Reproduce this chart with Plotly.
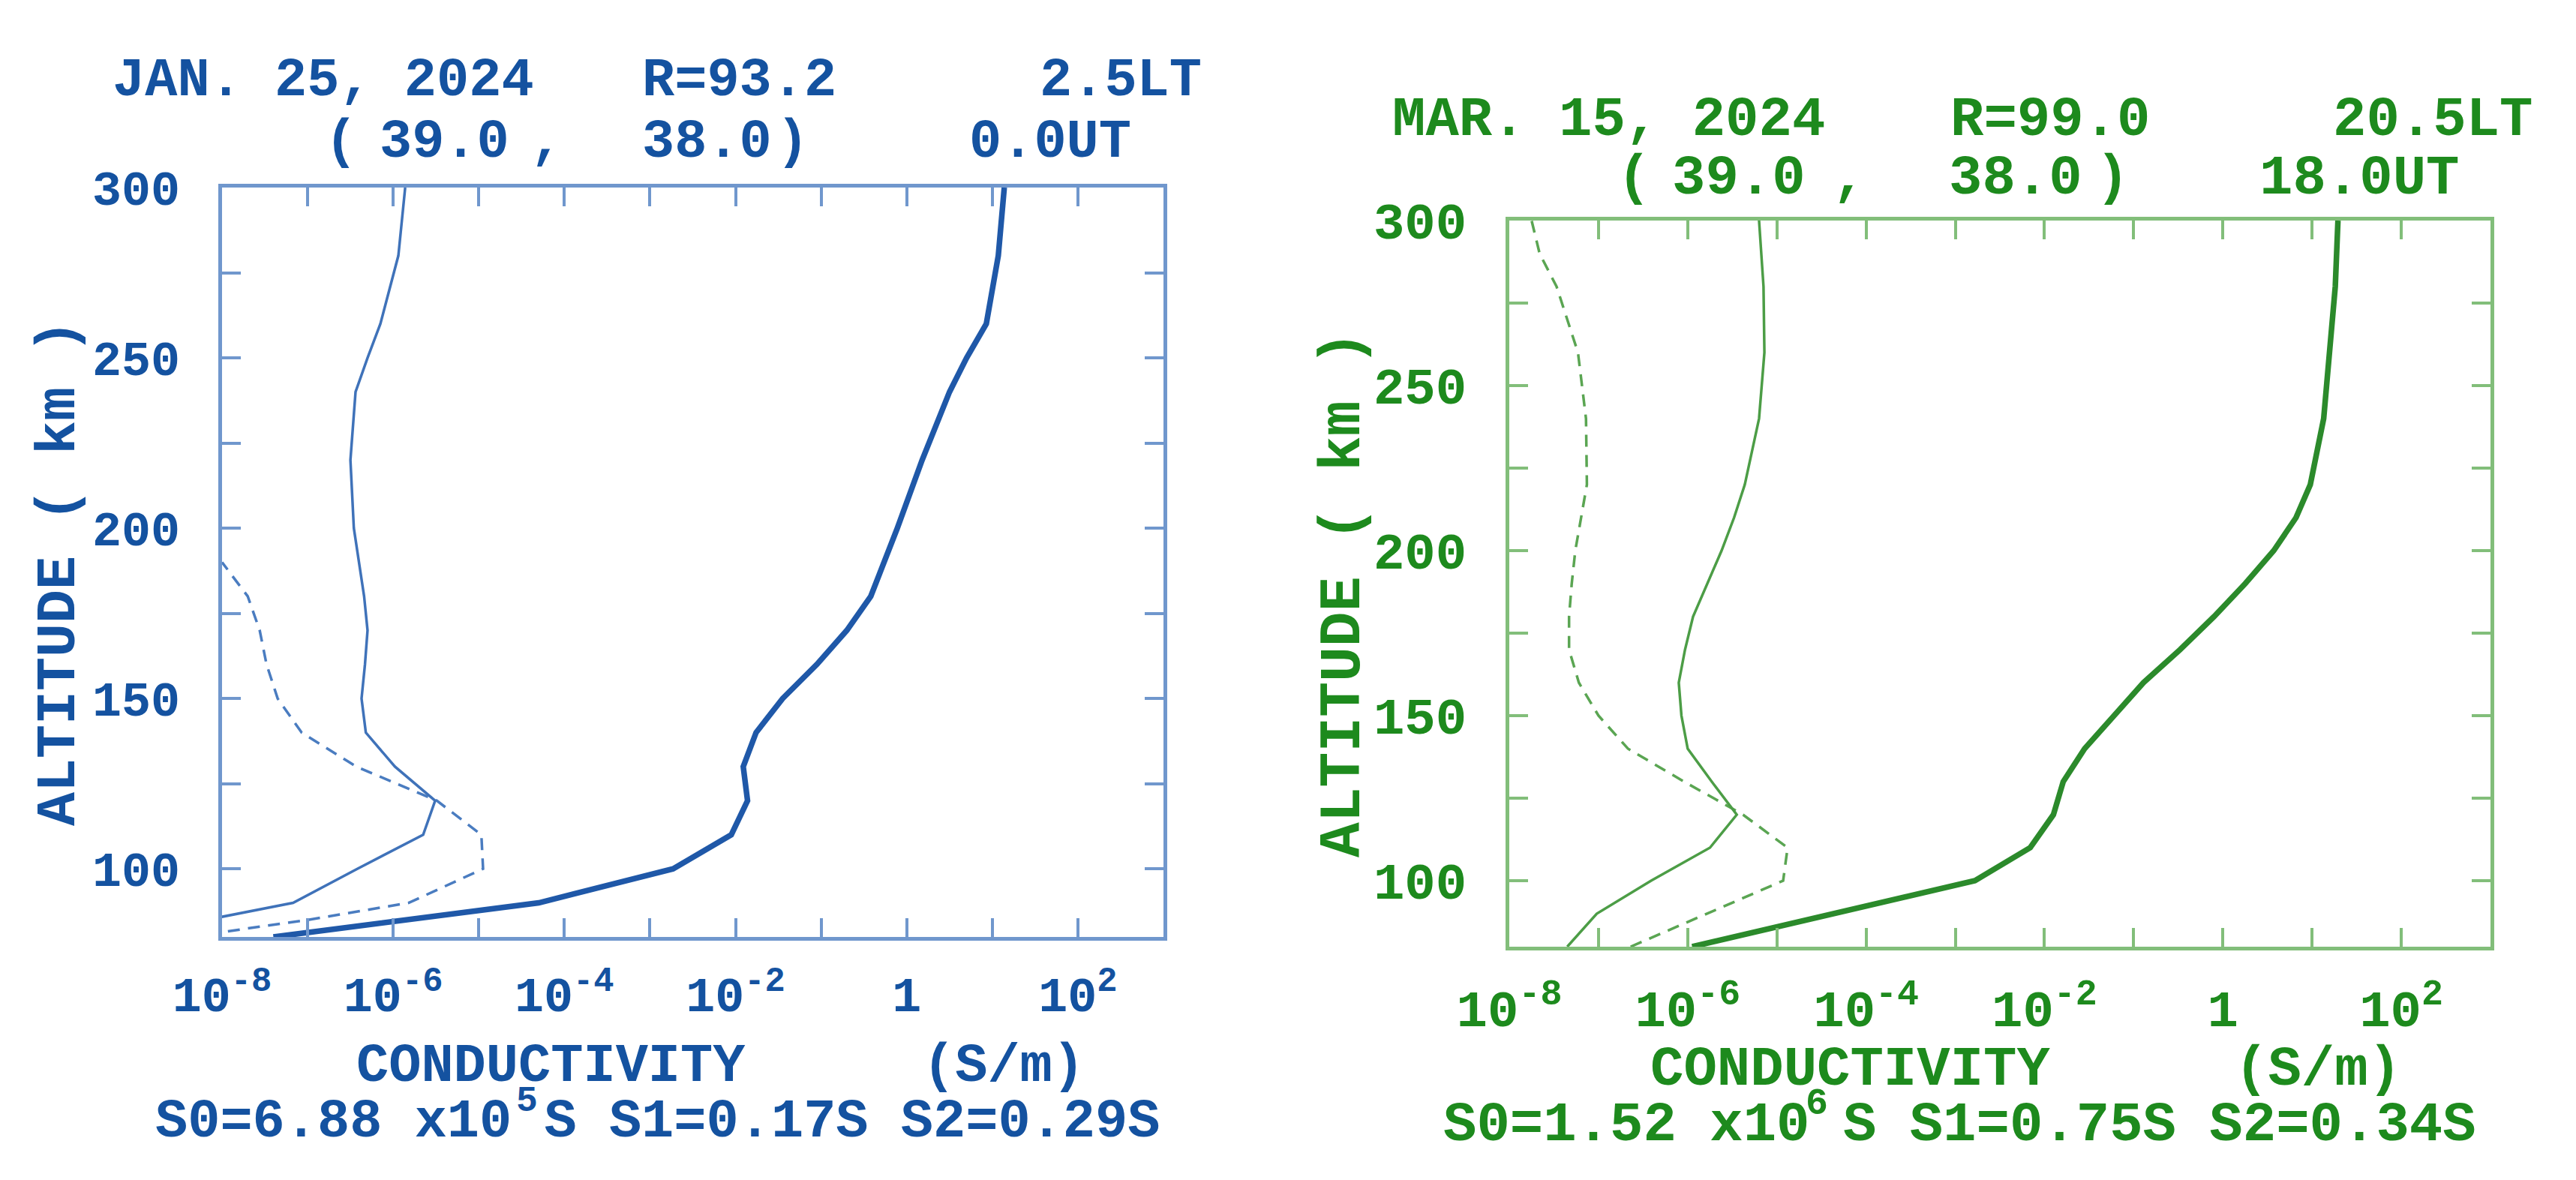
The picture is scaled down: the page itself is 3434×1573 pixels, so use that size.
import numpy as np
import plotly.graph_objects as go

W, H = 3434, 1573

# ---- data: log10 of conductivity (S/m) against altitude (km) ----
# left panel, JAN. 25, 2024
jan_alt = [80, 90, 100, 110, 120, 130, 140, 150, 160, 170, 180, 200, 220, 240, 250, 260, 280, 300]
jan_thick = [-7.4, -4.3, -2.73, -2.05, -1.86, -1.91, -1.76, -1.45, -1.05, -0.70, -0.42,
             -0.11, 0.18, 0.50, 0.70, 0.93, 1.07, 1.14]
jan_thin = [-9.2, -7.17, -6.42, -5.65, -5.51, -5.98, -6.32, -6.37, -6.33, -6.30, -6.34,
            -6.46, -6.50, -6.44, -6.30, -6.15, -5.94, -5.86]
jan_dash_alt = [80, 85, 90, 100, 110, 120, 130, 140, 150, 160, 170, 180, 190]
jan_dash = [-8.4, -7.0, -5.82, -4.95, -4.97, -5.49, -6.43, -7.07, -7.35, -7.48, -7.56, -7.70, -8.0]

# right panel, MAR. 15, 2024
mar_alt = [80, 90, 100, 110, 120, 130, 140, 150, 160, 170, 180, 190, 200, 210, 220, 240, 260, 280, 300]
mar_thick = [-5.95, -4.37, -2.78, -2.16, -1.90, -1.79, -1.55, -1.22, -0.89, -0.48, -0.10,
             0.25, 0.57, 0.82, 0.98, 1.13, 1.19, 1.26, 1.29]
mar_thin = [-7.35, -7.02, -6.41, -5.75, -5.45, -5.73, -6.0, -6.07, -6.10, -6.03, -5.94,
            -5.78, -5.62, -5.48, -5.36, -5.20, -5.14, -5.15, -5.20]
mar_dash_alt = [80, 90, 100, 110, 120, 130, 140, 150, 160, 170, 180, 190, 200, 220, 240, 260, 280, 290, 300]
mar_dash = [-6.64, -5.78, -4.93, -4.88, -5.38, -6.04, -6.67, -7.0, -7.22, -7.33, -7.33,
            -7.30, -7.26, -7.13, -7.14, -7.23, -7.47, -7.66, -7.75]

x_tickvals = [1e-8, 1e-6, 1e-4, 1e-2, 1, 1e2]
x_ticktext = ["10<sup>-8</sup>", "10<sup>-6</sup>", "10<sup>-4</sup>", "10<sup>-2</sup>", "1", "10<sup>2</sup>"]
x_minorvals = [1e-7, 1e-5, 1e-3, 1e-1, 1e1, 1e3]
y_tickvals = [100, 150, 200, 250, 300]
y_ticktext = ["100", "150", "200", "250", "300"]
y_minorvals = [125, 175, 225, 275]

FONT = "Liberation Mono"

panels = [
    dict(alt=jan_alt, thick=jan_thick, thin=jan_thin, dalt=jan_dash_alt, dash=jan_dash,
         text="#1452a0", frame="#7097cd", c_thick="#1f58a8", c_thin="#3f72b9", c_dash="#4a7cc0",
         xdom=[288 / W, 1543 / W], ydom=[1 - 1241 / H, 1 - 242 / H],
         fs=72, tfs=65, yfs=75, xstand=16,
         date="JAN. 25, 2024", r="R=93.2", lt="2.5LT", ut="0.0UT",
         s="S0=6.88 x10 S S1=0.17S S2=0.29S", sup="5",
         pos=dict(date=(140, 100), r=(846, 100), lt=(1596, 100),
                  lp=(423, 182), lat=(496, 182), comma=(720, 182), lon=(846, 182), rp=(1072, 182),
                  ut=(1502, 182),
                  cond=(465, 1414), unit=(1440, 1414), s=(868, 1488), sup=(694, 1460),
                  ytitle=(71, 756))),
    dict(alt=mar_alt, thick=mar_thick, thin=mar_thin, dalt=mar_dash_alt, dash=mar_dash,
         text="#1d8a1d", frame="#82be7a", c_thick="#2b8a2b", c_thin="#4c9d46", c_dash="#5aa552",
         xdom=[2004 / W, 3312 / W], ydom=[1 - 1254 / H, 1 - 286 / H],
         fs=74, tfs=69, yfs=78, xstand=18,
         date="MAR. 15, 2024", r="R=99.0", lt="20.5LT", ut="18.0UT",
         s="S0=1.52 x10 S S1=0.75S S2=0.34S", sup="6",
         pos=dict(date=(1846, 152), r=(2590, 152), lt=(3370, 152),
                  lp=(2146, 230), lat=(2219, 230), comma=(2457, 230), lon=(2588, 230), rp=(2832, 230),
                  ut=(3272, 230),
                  cond=(2190, 1418), unit=(3195, 1418), s=(2604, 1492), sup=(2414, 1463),
                  ytitle=(1783, 784))),
]

fig = go.Figure()
annotations = []

for i, p in enumerate(panels):
    xa = "x" if i == 0 else "x2"
    ya = "y" if i == 0 else "y2"
    fig.add_trace(go.Scatter(x=10 ** np.array(p["dash"]), y=p["dalt"], mode="lines",
                             line=dict(color=p["c_dash"], width=3.5, dash="16px,11px"),
                             xaxis=xa, yaxis=ya, showlegend=False))
    fig.add_trace(go.Scatter(x=10 ** np.array(p["thin"]), y=p["alt"], mode="lines",
                             line=dict(color=p["c_thin"], width=3.5),
                             xaxis=xa, yaxis=ya, showlegend=False))
    fig.add_trace(go.Scatter(x=10 ** np.array(p["thick"]), y=p["alt"], mode="lines",
                             line=dict(color=p["c_thick"], width=7.5),
                             xaxis=xa, yaxis=ya, showlegend=False))

    axis_common = dict(showline=True, linewidth=5, linecolor=p["frame"], mirror="ticks",
                       ticks="inside", ticklen=25, tickwidth=4, tickcolor=p["frame"],
                       showgrid=False, zeroline=False, automargin=False,
                       tickfont=dict(family=FONT, size=p["tfs"], color=p["text"], weight="bold"))
    minor_common = dict(ticks="inside", ticklen=25, tickwidth=4, tickcolor=p["frame"], showgrid=False)
    xkey = "xaxis" if i == 0 else "xaxis2"
    ykey = "yaxis" if i == 0 else "yaxis2"
    fig.update_layout(**{
        xkey: dict(type="log", range=[-8, 3], domain=p["xdom"], anchor=ya,
                   tickvals=x_tickvals, ticktext=x_ticktext, ticklabelstandoff=p["xstand"],
                   minor=dict(tickvals=x_minorvals, **minor_common), **axis_common),
        ykey: dict(range=[80, 300], domain=p["ydom"], anchor=xa,
                   tickvals=y_tickvals, ticktext=y_ticktext, ticklabelstandoff=38,
                   minor=dict(tickvals=y_minorvals, **minor_common), **axis_common),
    })

    def ann(text, key, xanchor, size, angle=0):
        px, py = p["pos"][key]
        annotations.append(dict(text="<b>" + text + "</b>", x=px / W, y=1 - py / H,
                                xref="paper", yref="paper", xanchor=xanchor, yanchor="middle",
                                showarrow=False, textangle=angle,
                                font=dict(family=FONT, size=size, color=p["text"])))

    fs = p["fs"]
    ann(p["date"], "date", "left", fs)
    ann(p["r"], "r", "left", fs)
    ann(p["lt"], "lt", "right", fs)
    # location line "( lat , lon )" is spaced loosely in the original
    ann("(", "lp", "left", fs)
    ann("39.0", "lat", "left", fs)
    ann(",", "comma", "center", fs)
    ann("38.0", "lon", "left", fs)
    ann(")", "rp", "right", fs)
    ann(p["ut"], "ut", "right", fs)
    ann("CONDUCTIVITY", "cond", "left", fs)
    ann("(S/m)", "unit", "right", fs)
    ann(p["s"], "s", "center", fs)
    ann(p["sup"], "sup", "center", int(fs * 0.68))   # exponent of S0
    ann("ALTITUDE ( km )", "ytitle", "center", p["yfs"], angle=-90)

fig.update_layout(width=W, height=H, margin=dict(l=0, r=0, t=0, b=0),
                  paper_bgcolor="white", plot_bgcolor="white",
                  annotations=annotations)

fig.write_html("out.html")
